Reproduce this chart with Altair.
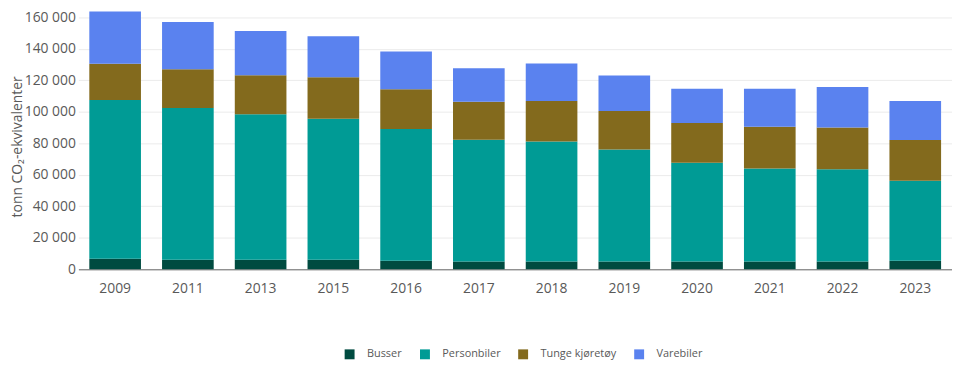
import altair as alt
import pandas as pd

years = ["2009", "2011", "2013", "2015", "2016", "2017", "2018", "2019", "2020", "2021", "2022", "2023"]
categories = ["Busser", "Personbiler", "Tunge kjøretøy", "Varebiler"]
busser = [6700, 6100, 6100, 6100, 5500, 4900, 4900, 4900, 4900, 4900, 4900, 5500]
personbiler = [100800, 96400, 92400, 89450, 83600, 77400, 76200, 71150, 62750, 59150, 58700, 50800]
tunge = [23100, 24600, 24750, 26450, 25200, 24100, 25800, 24550, 25200, 26450, 26450, 25800]
varebiler = [33200, 30000, 28150, 26000, 24100, 21250, 23750, 22500, 21800, 24100, 25800, 24750]
colors = ["#004b40", "#009b95", "#836a1d", "#5a82ef"]

series = [busser, personbiler, tunge, varebiler]
rows = []
for ci, (cat, vals) in enumerate(zip(categories, series)):
    for y, v in zip(years, vals):
        rows.append({"År": y, "Kategori": cat, "Verdi": v, "rekkefølge": ci})
df = pd.DataFrame(rows)

FONT = "Open Sans"
TEXT = "#595959"

chart = alt.Chart(df).mark_bar().encode(
    x=alt.X("År:N", sort=years, title=None,
            scale=alt.Scale(paddingInner=0.29, paddingOuter=0.15),
            axis=alt.Axis(labelAngle=0, labelFontSize=14, labelColor=TEXT, labelFont=FONT,
                          tickSize=0, labelPadding=12, domainColor="#666666", domainWidth=1,
                          grid=False)),
    y=alt.Y("Verdi:Q", title="tonn CO₂-ekvivalenter",
            scale=alt.Scale(domain=[0, 165000], nice=False),
            axis=alt.Axis(values=[0, 20000, 40000, 60000, 80000, 100000, 120000, 140000, 160000],
                          labelExpr="replace(format(datum.value, ','), ',', ' ')",
                          labelFontSize=14, labelColor=TEXT, labelFont=FONT, tickSize=0,
                          labelPadding=3, domain=False, gridColor="#ebebeb", gridWidth=1,
                          titleFontSize=14, titleFont=FONT, titleColor=TEXT, titleFontWeight="normal",
                          titlePadding=0, titleY=138)),
    color=alt.Color("Kategori:N", sort=categories,
                    scale=alt.Scale(domain=categories, range=colors),
                    legend=alt.Legend(title=None, orient="none", direction="horizontal",
                                      legendX=268, legendY=342, symbolType="square", symbolSize=100,
                                      symbolStrokeWidth=0, labelFontSize=11, labelFont=FONT,
                                      labelColor=TEXT, labelOffset=12, columnPadding=17, padding=0)),
    order=alt.Order("rekkefølge:Q", sort="ascending"),
).properties(
    width=881, height=262,
    autosize=alt.AutoSizeParams(type="none"),
    padding={"left": 71, "top": 0, "right": 0, "bottom": 96},
).configure_view(stroke=None)

chart.save("out.html", embed_options={"renderer": "svg", "actions": False})
